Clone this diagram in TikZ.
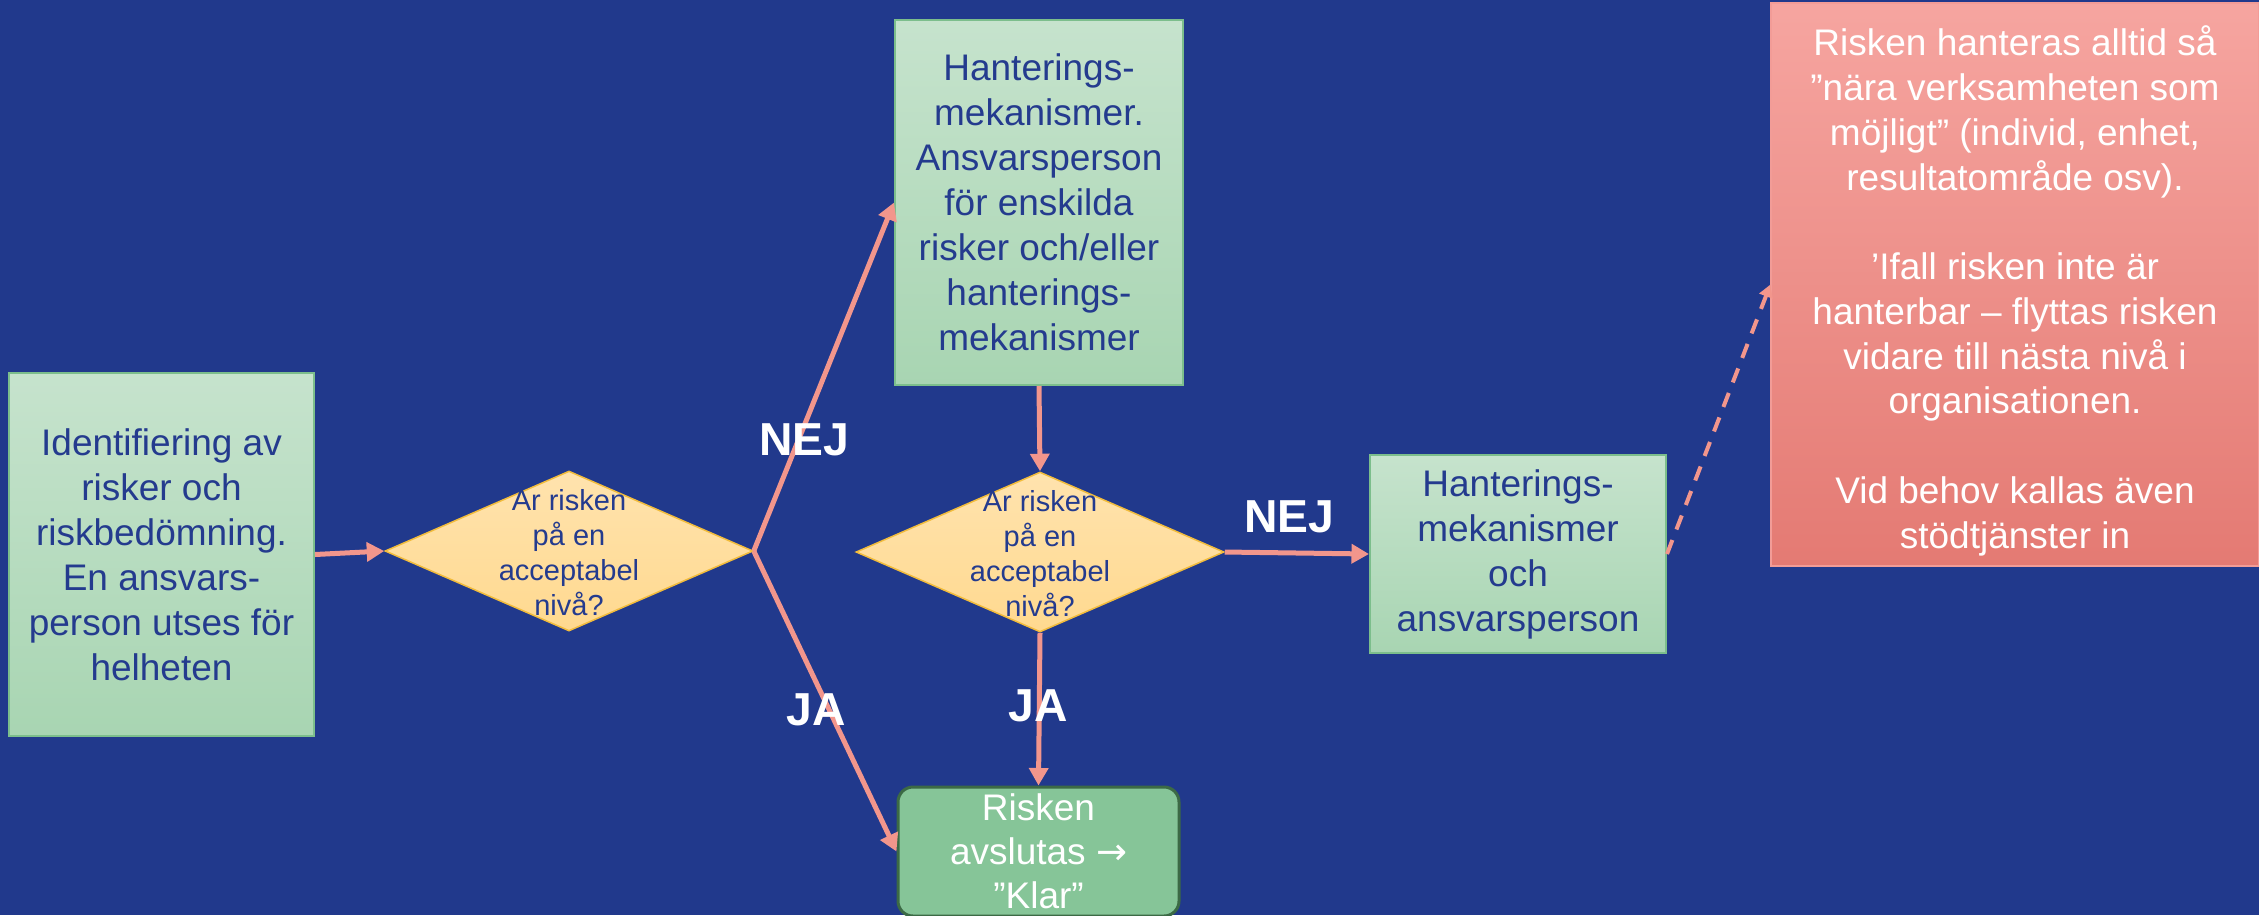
\documentclass[tikz,border=0pt]{standalone}
\usepackage{fontspec}
\setmainfont{Liberation Sans}
\newfontfamily\arrowfont{DejaVu Sans}
\usetikzlibrary{shapes.geometric,arrows.meta}
\definecolor{bg}{HTML}{21398C}
\definecolor{gtop}{HTML}{C6E3CD}
\definecolor{gbot}{HTML}{A8D5B2}
\definecolor{gborder}{HTML}{7CBE8C}
\definecolor{tblue}{HTML}{243B8E}
\definecolor{dtop}{HTML}{FFE3AE}
\definecolor{dbot}{HTML}{FFD98F}
\definecolor{dborder}{HTML}{F2BC3C}
\definecolor{arr}{HTML}{F2968C}
\definecolor{endfill}{HTML}{86C598}
\definecolor{enddark}{HTML}{3C6A45}
\definecolor{rtop}{HTML}{F6A5A0}
\definecolor{rbot}{HTML}{E47A73}
\begin{document}
\begin{tikzpicture}[x=0.4pt,y=-0.4pt,
  greenbox/.style={draw=gborder, line width=0.8pt, top color=gtop, bottom color=gbot,
    text=tblue, align=center, inner sep=0pt,
    font=\fontsize{14.8pt}{18pt}\selectfont},
  decision/.style={diamond, draw=dborder, line width=0.6pt, top color=dtop, bottom color=dbot,
    inner sep=0pt, minimum width=147.2pt, minimum height=64pt},
  dtext/.style={text=tblue, align=center, inner sep=0pt,
    font=\fontsize{11.6pt}{14pt}\selectfont},
  endbox/.style={draw=enddark, line width=1.2pt, fill=endfill, rounded corners=6pt,
    text=white, align=center, inner sep=0pt,
    font=\fontsize{14.8pt}{17.6pt}\selectfont},
  notebox/.style={top color=rtop, bottom color=rbot, draw=rtop!80!rbot, line width=0.5pt,
    inner sep=0pt},
  notetext/.style={text=white, align=center, inner sep=0pt,
    font=\fontsize{14.8pt}{17.9pt}\selectfont},
  flow/.style={draw=arr, line width=2pt, -{Triangle[length=7pt,width=7.5pt]}},
  dashflow/.style={draw=arr, line width=1.6pt, dash pattern=on 6pt off 4.5pt,
    -{Triangle[length=5pt,width=5.5pt]}},
  lbl/.style={text=white, inner sep=0pt, font=\bfseries\fontsize{18.5pt}{20pt}\selectfont}
]
\fill[bg] (0,0) rectangle (2259,915);
\useasboundingbox (0,0) rectangle (2259,915);

% boxes
\node[greenbox, minimum width=122pt, minimum height=145.2pt] (b1) at (161.5,554.5)
  {Identifiering av\\risker och\\riskbedömning.\\En ansvars-\\person utses för\\helheten};
\node[greenbox, minimum width=115.2pt, minimum height=146pt] (b2) at (1039,202.5)
  {Hanterings-\\mekanismer.\\Ansvarsperson\\för enskilda\\risker och/eller\\hanterings-\\mekanismer};
\node[greenbox, minimum width=118.4pt, minimum height=79.2pt] (b3) at (1518,554)
  {Hanterings-\\mekanismer\\och\\ansvarsperson};
\node[endbox, minimum width=112.4pt, minimum height=51.6pt] (e) at (1038.5,851.5)
  {Risken\\avslutas {\arrowfont →}\\”Klar”};
\node[notebox, minimum width=195.2pt, minimum height=225.2pt] (r) at (2015,284.5) {};
\node[notetext] (rt) at (2015,291)
  {Risken hanteras alltid så\\”nära verksamheten som\\möjligt” (individ, enhet,\\resultatområde osv).\\[17.9pt]’Ifall risken inte är\\hanterbar – flyttas risken\\vidare till nästa nivå i\\organisationen.\\[17.9pt]Vid behov kallas även\\stödtjänster in};

% decisions
\node[decision] (d1) at (569,551) {};
\node[dtext] (d1t) at (569,553) {Ar risken\\på en\\acceptabel\\nivå?};
\node[decision] (d2) at (1040,552) {};
\node[dtext] (d2t) at (1040,554) {Ar risken\\på en\\acceptabel\\nivå?};

% connectors
\draw[flow] (b1.east) -- (d1.west);
\draw[flow] (d1.east) -- (b2.west);
\draw[flow] (d1.east) -- (e.west);
\draw[flow] (b2.south) -- (d2.north);
\draw[flow] (d2.east) -- (b3.west);
\draw[flow] (d2.south) -- (e.north);
\draw[dashflow] (b3.east) -- (r.west);

% labels
\node[lbl] (nej1) at (804,440) {NEJ};
\node[lbl] (ja1) at (816,710) {JA};
\node[lbl] (nej2) at (1289,517) {NEJ};
\node[lbl] (ja2) at (1038,706) {JA};
\end{tikzpicture}
\end{document}
